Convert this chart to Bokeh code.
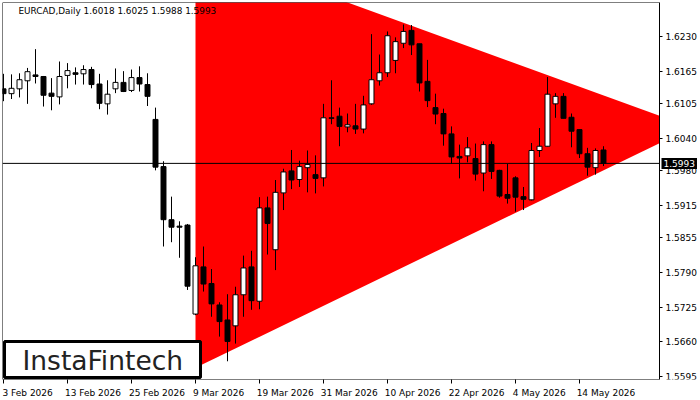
from bokeh.plotting import figure
from bokeh.models import (ColumnDataSource, FixedTicker, Range1d, Label, LinearAxis,
                          BoxAnnotation, PrintfTickFormatter)
from bokeh.embed import file_html
from bokeh.resources import INLINE

symbol = "EURCAD,Daily"

opens = [1.6132, 1.6123, 1.6132, 1.6147, 1.6158, 1.6155, 1.6124, 1.6117, 1.6157, 1.6162,
         1.6160, 1.6168, 1.6141, 1.6104, 1.6132, 1.6144, 1.6129, 1.6153, 1.6140, 1.6075,
         1.5987, 1.5888, 1.5876, 1.5878, 1.5712, 1.5800, 1.5769, 1.5729, 1.5701, 1.5690,
         1.5748, 1.5800, 1.5736, 1.5910, 1.5832, 1.5938, 1.5979, 1.5963, 1.5985, 1.5972,
         1.5966, 1.6078, 1.6081, 1.6061, 1.6063, 1.6057, 1.6104, 1.6147, 1.6162, 1.6185,
         1.6217, 1.6241, 1.6216, 1.6146, 1.6097, 1.6086, 1.6048, 1.6006, 1.6007, 1.6002,
         1.5975, 1.6028, 1.5980, 1.5935, 1.5966, 1.5931, 1.5925, 1.6017, 1.6025, 1.6104,
         1.6118, 1.6079, 1.6056, 1.6011, 1.5985, 1.6018]
highs = [1.6160, 1.6159, 1.6161, 1.6171, 1.6206, 1.6156, 1.6152, 1.6183, 1.6180, 1.6172,
         1.6176, 1.6173, 1.6160, 1.6148, 1.6170, 1.6165, 1.6168, 1.6174, 1.6161, 1.6097,
         1.5997, 1.5931, 1.5885, 1.5880, 1.5818, 1.5838, 1.5796, 1.5734, 1.5749, 1.5763,
         1.5821, 1.5830, 1.5930, 1.5931, 1.5962, 1.5983, 1.6018, 1.5998, 1.6017, 1.6008,
         1.6104, 1.6148, 1.6097, 1.6086, 1.6104, 1.6119, 1.6234, 1.6196, 1.6239, 1.6228,
         1.6252, 1.6251, 1.6216, 1.6186, 1.6123, 1.6095, 1.6062, 1.6028, 1.6042, 1.6030,
         1.6034, 1.6034, 1.5981, 1.5992, 1.5969, 1.5949, 1.6031, 1.6059, 1.6154, 1.6124,
         1.6124, 1.6086, 1.6056, 1.6022, 1.6021, 1.6025]
lows = [1.6109, 1.6113, 1.6116, 1.6104, 1.6142, 1.6099, 1.6092, 1.6103, 1.6133, 1.6140,
        1.6140, 1.6133, 1.6094, 1.6084, 1.6124, 1.6126, 1.6126, 1.6127, 1.6100, 1.5980,
        1.5838, 1.5846, 1.5817, 1.5757, 1.5710, 1.5754, 1.5707, 1.5670, 1.5624, 1.5657,
        1.5707, 1.5720, 1.5721, 1.5823, 1.5794, 1.5906, 1.5945, 1.5949, 1.5939, 1.5937,
        1.5950, 1.6066, 1.6025, 1.6051, 1.6048, 1.6049, 1.6102, 1.6138, 1.6154, 1.6161,
        1.6208, 1.6195, 1.6127, 1.6098, 1.6066, 1.6026, 1.5992, 1.5965, 1.5995, 1.5961,
        1.5941, 1.5964, 1.5929, 1.5918, 1.5903, 1.5906, 1.5924, 1.6005, 1.6024, 1.6078,
        1.6077, 1.6023, 1.6003, 1.5970, 1.5972, 1.5988]
closes = [1.6123, 1.6133, 1.6149, 1.6164, 1.6155, 1.6120, 1.6118, 1.6155, 1.6166, 1.6159,
          1.6168, 1.6140, 1.6105, 1.6122, 1.6144, 1.6127, 1.6153, 1.6141, 1.6118, 1.5986,
          1.5888, 1.5874, 1.5874, 1.5764, 1.5802, 1.5768, 1.5731, 1.5698, 1.5661, 1.5748,
          1.5798, 1.5737, 1.5910, 1.5881, 1.5939, 1.5977, 1.5962, 1.5987, 1.5991, 1.5965,
          1.6078, 1.6077, 1.6062, 1.6065, 1.6057, 1.6102, 1.6149, 1.6162, 1.6231, 1.6220,
          1.6239, 1.6214, 1.6143, 1.6110, 1.6085, 1.6048, 1.6005, 1.6003, 1.6022, 1.5973,
          1.6028, 1.5978, 1.5932, 1.5928, 1.5930, 1.5926, 1.6017, 1.6025, 1.6122, 1.6118,
          1.6077, 1.6053, 1.6011, 1.5986, 1.6017, 1.5993]

# x position of each bar = trading-day index (3 Feb 2026 = 0)
date_ticks = [0, 8, 16, 24, 32, 40, 48, 56, 64, 72]
date_labels = ["3 Feb 2026", "13 Feb 2026", "25 Feb 2026", "9 Mar 2026", "19 Mar 2026",
               "31 Mar 2026", "10 Apr 2026", "22 Apr 2026", "4 May 2026", "14 May 2026"]
price_ticks = [1.6230, 1.6165, 1.6105, 1.6040, 1.5980, 1.5915, 1.5855, 1.5790,
               1.5725, 1.5660, 1.5595]

# triangle pattern vertices (bar index, price)
tri_x = [24, 24, 86.06]
tri_y = [1.6396, 1.5612, 1.6060]

last_price = closes[-1]

# ---- layout constants ----
PX_PER_BAR = 8
X_START = -0.125
X_AXIS_AT = 82.0          # bar-index where the price scale sits
FRAME_W, FRAME_H = 698, 377
X_END = X_START + FRAME_W / PX_PER_BAR
FONT = "DejaVu Sans"
DATE_FS = 9.0

n = len(opens)
idx = list(range(n))
bull = [c >= o for o, c in zip(opens, closes)]
src = ColumnDataSource(dict(
    x=idx, high=highs, low=lows,
    top=[max(o, c) for o, c in zip(opens, closes)],
    bottom=[min(o, c) for o, c in zip(opens, closes)],
    fill=["white" if b else "black" for b in bull],
))

# clip the triangle at the price-scale line
def _interp(p0, p1, xv):
    (x0, y0), (x1, y1) = p0, p1
    return y0 + (xv - x0) * (y1 - y0) / (x1 - x0)

A, B, C = list(zip(tri_x, tri_y))
clip_x = [A[0], B[0], X_AXIS_AT, X_AXIS_AT]
clip_y = [A[1], B[1], _interp(B, C, X_AXIS_AT), _interp(A, C, X_AXIS_AT)]

p = figure(frame_width=FRAME_W, frame_height=FRAME_H,
           x_range=Range1d(X_START, X_END), y_range=Range1d(1.5590, 1.6293),
           x_axis_location=None, y_axis_location=None,
           output_backend="svg", toolbar_location=None,
           min_border_left=0, min_border_top=0, min_border_right=0, min_border_bottom=21)
p.margin = (2, 0, 0, 2)
p.background_fill_color = "white"
p.border_fill_color = "white"
p.outline_line_color = None
p.xgrid.visible = False
p.ygrid.visible = False

p.patch(clip_x, clip_y, fill_color="#FF0000", line_color=None)
p.segment(x0="x", y0="low", x1="x", y1="high", source=src, line_color="black", line_width=1)
p.vbar(x="x", width=0.62, top="top", bottom="bottom", source=src,
       fill_color="fill", line_color="black", line_width=1)

# last price line
p.segment(x0=[X_START], y0=[last_price], x1=[X_AXIS_AT], y1=[last_price],
          line_color="black", line_width=1)

# chart border (left / top / bottom, right edge at the price scale)
p.add_layout(BoxAnnotation(right=X_AXIS_AT, fill_alpha=0, line_color="black",
                           line_width=1, line_alpha=1.0))

# price scale
ya = LinearAxis(fixed_location=X_AXIS_AT)
ya.ticker = FixedTicker(ticks=price_ticks)
ya.formatter = PrintfTickFormatter(format="%.4f")
ya.major_tick_out = 3
ya.major_tick_in = 0
ya.minor_tick_out = 0
ya.minor_tick_in = 0
ya.axis_line_color = "black"
ya.major_tick_line_color = "black"
ya.major_label_standoff = 3
ya.major_label_text_font = FONT
ya.major_label_text_font_size = "9px"
ya.major_label_text_color = "black"
p.add_layout(ya, "right")

# date scale: tick marks at the dates (minor ticks), labels left-aligned at them (MT4 style)
_em = {"0": .636, "1": .636, "2": .636, "3": .636, "4": .636, "5": .636, "6": .636,
       "7": .636, "8": .636, "9": .636, " ": .318, "F": .575, "e": .615, "b": .635,
       "M": .863, "a": .613, "r": .411, "A": .684, "p": .635, "y": .592}
label_pos = [t + 0.93 * sum(_em.get(ch, .6) for ch in s) * DATE_FS / 2 / PX_PER_BAR - 0.1
             for t, s in zip(date_ticks, date_labels)]
xb = LinearAxis(ticker=FixedTicker(ticks=label_pos, minor_ticks=date_ticks),
                major_label_overrides={v: s for v, s in zip(label_pos, date_labels)})
xb.major_tick_out = 0
xb.major_tick_in = 0
xb.minor_tick_out = 4
xb.minor_tick_in = 0
xb.minor_tick_line_color = "black"
xb.axis_line_color = None
xb.major_label_standoff = 4
xb.major_label_text_font = FONT
xb.major_label_text_font_size = f"{DATE_FS}px"
xb.major_label_text_color = "black"
p.add_layout(xb, "below")

title = f"{symbol}  {opens[-1]:.4f} {highs[-1]:.4f} {lows[-1]:.4f} {closes[-1]:.4f}"
p.add_layout(Label(x=16, y=368.3, x_units="screen", y_units="screen", text=title,
                   text_font=FONT, text_font_size="8.9px", text_color="black",
                   text_baseline="middle"))

p.add_layout(Label(x=659, y=last_price, x_units="screen", y_units="data",
                   text=f"{last_price:.4f}", text_font=FONT, text_font_size="9px",
                   text_color="white", text_baseline="middle",
                   background_fill_color="black", background_fill_alpha=1.0, padding=2))

p.add_layout(BoxAnnotation(left=2, right=198, top=38, bottom=2,
                           left_units="screen", right_units="screen",
                           top_units="screen", bottom_units="screen",
                           fill_color="white", fill_alpha=1.0,
                           line_color="black", line_width=3, line_alpha=1.0))
p.add_layout(Label(x=20, y=19, x_units="screen", y_units="screen", text="InstaFintech",
                   text_font=FONT, text_font_size="26.5px", text_color="#222222",
                   text_baseline="alphabetic"))

open("out.html", "w").write(file_html(p, INLINE))
